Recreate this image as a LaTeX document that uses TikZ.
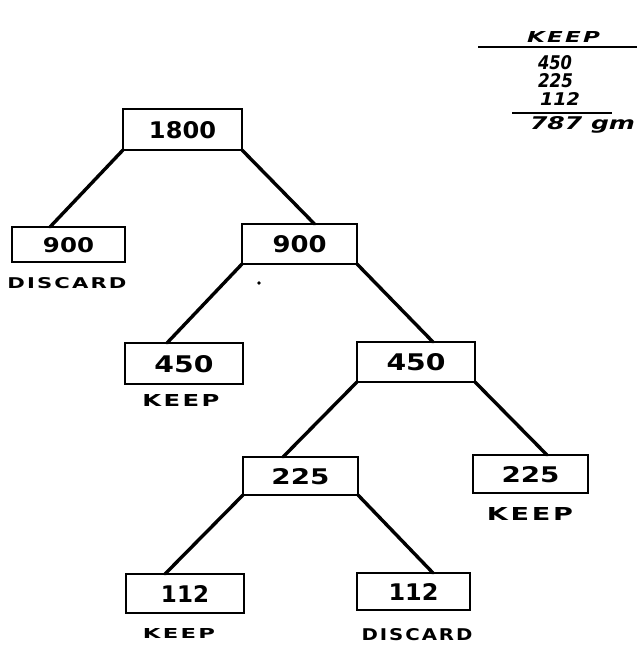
\documentclass[tikz,border=0pt]{standalone}
\usepackage{fontspec}
\setmainfont{DejaVu Sans}
\usepackage{graphicx}
\newcommand{\fit}[3]{\resizebox{#1}{#2}{\addfontfeatures{LetterSpace=10}#3}}
\newcommand{\fitn}[3]{\resizebox{#1}{#2}{#3}}
\tikzset{
  numbox/.style={draw, line width=2.4pt, rectangle, inner sep=0pt, outer sep=0pt, text depth=0pt, font=\bfseries},
  conn/.style={line width=3.4pt, line cap=round},
  lab/.style={inner sep=0pt, outer sep=0pt, text depth=0pt, font=\bfseries},
  rulel/.style={line width=2.2pt}
}
\begin{document}
\begin{tikzpicture}[x=1pt,y=-1pt]
\fill[white] (0,0) rectangle (644,658);
\useasboundingbox (0,0) rectangle (644,658);

% boxes
\node[numbox, minimum width=119pt, minimum height=41pt] (b1800) at (182.5,129.5) {\fitn{67pt}{17pt}{1800}};
\node[numbox, minimum width=113pt, minimum height=35pt] (b900a) at (68.5,244.5) {\fitn{51pt}{15pt}{900}};
\node[numbox, minimum width=115pt, minimum height=40pt] (b900b) at (299.5,244) {\fitn{54pt}{17pt}{900}};
\node[numbox, minimum width=118pt, minimum height=41pt] (b450a) at (184,363.5) {\fitn{59pt}{17pt}{450}};
\node[numbox, minimum width=118pt, minimum height=40pt] (b450b) at (416,362) {\fitn{59pt}{17pt}{450}};
\node[numbox, minimum width=115pt, minimum height=38pt] (b225a) at (300.5,476) {\fitn{58pt}{16pt}{225}};
\node[numbox, minimum width=115pt, minimum height=38pt] (b225b) at (530.5,474) {\fitn{58pt}{16pt}{225}};
\node[numbox, minimum width=118pt, minimum height=39pt] (b112a) at (185,593.5) {\fitn{48pt}{17pt}{112}};
\node[numbox, minimum width=113pt, minimum height=37pt] (b112b) at (413.5,591.5) {\fitn{50pt}{17pt}{112}};

% connectors
\draw[conn] (b1800.south west) -- ([xshift=-18.5pt]b900a.north);
\draw[conn] (b1800.south east) -- ([xshift=15pt]b900b.north);
\draw[conn] (b900b.south west) -- ([xshift=-17pt]b450a.north);
\draw[conn] (b900b.south east) -- ([xshift=17pt]b450b.north);
\draw[conn] (b450b.south west) -- ([xshift=-17.5pt]b225a.north);
\draw[conn] (b450b.south east) -- ([xshift=16.5pt]b225b.north);
\draw[conn] (b225a.south west) -- ([xshift=-20pt]b112a.north);
\draw[conn] (b225a.south east) -- ([xshift=19.5pt]b112b.north);

% labels
\node[lab] (l900a) at (67,282.5) {\fit{119pt}{11pt}{DISCARD}};
\node[lab] (l450a) at (181,400) {\fit{77pt}{12pt}{KEEP}};
\node[lab] (l225b) at (530,513.5) {\fit{86pt}{13pt}{KEEP}};
\node[lab] (l112a) at (179,633) {\fit{72pt}{10pt}{KEEP}};
\node[lab] (l112b) at (417,634) {\fit{111pt}{12pt}{DISCARD}};

% stray dot
\fill (259,283) circle[radius=1.8pt];

% table
\node[lab] (tkeep) at (563.5,37.5) {\itshape\fit{73pt}{11pt}{KEEP}};
\draw[rulel] (478,47) -- (637,47);
\node[lab] (t450) at (555,62.5) {\itshape\fitn{34pt}{14pt}{450}};
\node[lab] (t225) at (555.5,80.5) {\itshape\fitn{35pt}{14pt}{225}};
\node[lab] (t112) at (560,99.5) {\itshape\fitn{40pt}{13pt}{112}};
\draw[rulel] (512,113) -- (612,113);
\node[lab, anchor=north] (tsum) at (582.5,117) {\itshape\fitn{105pt}{13pt}{787 gm}};
\end{tikzpicture}
\end{document}
